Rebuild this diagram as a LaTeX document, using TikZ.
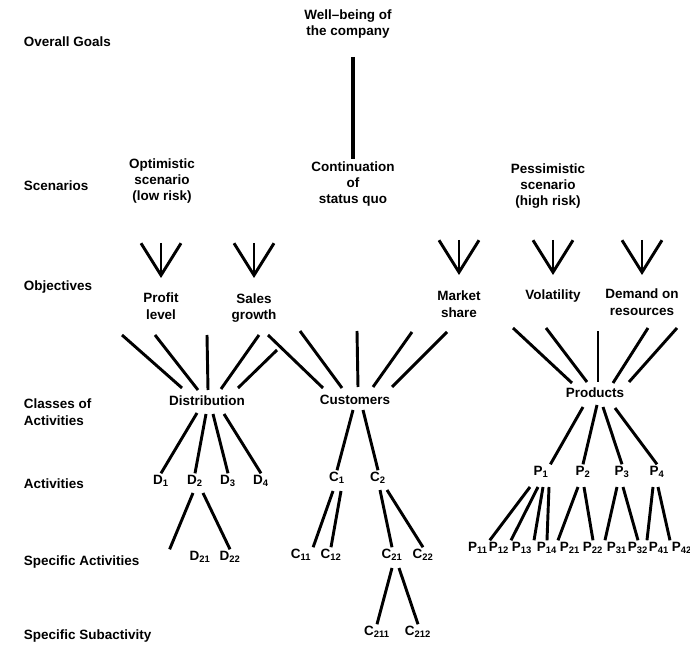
\documentclass[tikz,border=0pt]{standalone}
\usepackage{fontspec}
\setmainfont{Liberation Sans}
\usetikzlibrary{arrows.meta,calc,positioning}
\newcommand{\actSub}[2]{#1\textsubscript{#2}}
\tikzset{
	txt/.style={font=\fontsize{11.5}{14}\selectfont\bfseries,align=center,inner sep=1.5pt},
	rowLbl/.style={txt,anchor=west,align=left},
	link/.style={line width=2.5pt},
	bigArrow/.style={line width=2.5pt,-{Straight Barb[length=9.6mm,width=12mm]}},
}
\begin{document}
\begin{tikzpicture}[x=0.03cm,y=-0.03cm]
	\useasboundingbox (0,0) rectangle (690,651);

	\node (lGoals) at (22,42) [rowLbl] {Overall Goals};
	\node (lScen) at (22,186) [rowLbl] {Scenarios};
	\node (lObj) at (22,287) [rowLbl] {Objectives};
	\node (lClass) at (22,412) [rowLbl] {Classes of\\Activities};
	\node (lAct) at (22,484) [rowLbl] {Activities};
	\node (lSpec) at (22,562) [rowLbl] {Specific Activities};
	\node (lSub) at (22,636) [rowLbl] {Specific Subactivity};

	\node (goal) at (348,24) [txt] {Well--being of\\the company};
	\node (opt) at (162,181) [txt] {Optimistic\\scenario\\(low risk)};
	\node (cont) at (353,184) [txt] {Continuation\\of\\status quo};
	\node (pess) at (548,186) [txt] {Pessimistic\\scenario\\(high risk)};
	\draw[link,line width=3pt,shorten <=14pt] (cont.north |- goal.south) -- (cont.north);

	\node (profit) at (161,306) [txt] {Profit\\level};
	\node (sales) at (254,308) [txt] {Sales\\growth};
	\node (market) at (459,304) [txt] {Market\\share};
	\node (volat) at (553,296) [txt] {Volatility};
	\node (demand) at (642,302) [txt] {Demand on\\resources};
	\draw[bigArrow] (profit.north |- 0,243) -- (profit.north |- 0,278);
	\draw[bigArrow] (sales.north |- 0,243) -- (sales.north |- 0,278);
	\draw[bigArrow] (market.north |- 0,240) -- (market.north |- 0,275);
	\draw[bigArrow] (volat.north |- 0,240) -- (volat.north |- 0,275);
	\draw[bigArrow] (demand.north |- 0,240) -- (demand.north |- 0,275);

	\node (dist) at (207,401) [txt] {Distribution};
	\node (cust) at (355,400) [txt] {Customers};
	\node (prod) at (595,393) [txt] {Products};
	\draw[link] ($(dist)+(-25,-13)$) -- ++(-60,-53);
	\draw[link] ($(dist)+(-9,-11)$) -- ++(-43,-55);
	\draw[link] ($(dist)+(1,-11)$) -- ++(-1,-55);
	\draw[link] ($(dist)+(14,-12)$) -- ++(38,-54);
	\draw[link] ($(dist)+(31,-13)$) -- ++(39,-38);
	\draw[link] ($(cust)+(-32,-12)$) -- ++(-55,-53);
	\draw[link] ($(cust)+(-13,-12)$) -- ++(-42,-57);
	\draw[link] ($(cust)+(3,-13)$) -- ++(-1,-56);
	\draw[link] ($(cust)+(18,-13)$) -- ++(39,-55);
	\draw[link] ($(cust)+(37,-13)$) -- ++(55,-55);
	\draw[link] ($(prod)+(-23,-10)$) -- ++(-59,-55);
	\draw[link] ($(prod)+(-8,-11)$) -- ++(-41,-54);
	\draw[link] ($(prod)+(3,-11)$) -- ++(0,-51);
	\draw[link] ($(prod)+(18,-10)$) -- ++(35,-55);
	\draw[link] ($(prod)+(34,-11)$) -- ++(48,-54);

	\node (d1) at (161,481) [txt] {\actSub{D}{1}};
	\node (d2) at (195,481) [txt] {\actSub{D}{2}};
	\node (d3) at (228,481) [txt] {\actSub{D}{3}};
	\node (d4) at (261,481) [txt] {\actSub{D}{4}};
	\node (c1) at (337,478) [txt] {\actSub{C}{1}};
	\node (c2) at (378,478) [txt] {\actSub{C}{2}};
	\node (p1) at (541,472) [txt] {\actSub{P}{1}};
	\node (p2) at (583,472) [txt] {\actSub{P}{2}};
	\node (p3) at (622,472) [txt] {\actSub{P}{3}};
	\node (p4) at (657,472) [txt] {\actSub{P}{4}};
	\draw[link] ($(dist)+(-10,12)$) -- (d1.north);
	\draw[link] ($(dist)+(-1,13)$) -- (d2.north);
	\draw[link] ($(dist)+(6,13)$) -- (d3.north);
	\draw[link] ($(dist)+(17,13)$) -- (d4.north);
	\draw[link] ($(cust)+(-2,10)$) -- (c1.north);
	\draw[link] ($(cust)+(8,10)$) -- (c2.north);
	\draw[link] ($(prod)+(-12,14)$) -- (p1.north east);
	\draw[link] ($(prod)+(2,12)$) -- (p2.north);
	\draw[link] ($(prod)+(8,14)$) -- (p3.north);
	\draw[link] ($(prod)+(20,15)$) -- (p4.north);

	\node (d21) at (200,557) [txt] {\actSub{D}{21}};
	\node (d22) at (230,557) [txt] {\actSub{D}{22}};
	\node (c11) at (301,555) [txt] {\actSub{C}{11}};
	\node (c12) at (331,555) [txt] {\actSub{C}{12}};
	\node (c21) at (392,555) [txt] {\actSub{C}{21}};
	\node (c22) at (423,555) [txt] {\actSub{C}{22}};
	\draw[link] ($(d2)+(-2,12)$) -- ($(d21.north west)+(-18,0)$);
	\draw[link] ($(d2)+(8,12)$) -- (d22.north);
	\draw[link] ($(c1)+(-4,13)$) -- (c11.north east);
	\draw[link] ($(c1)+(4,13)$) -- (c12.north);
	\draw[link] ($(c2)+(2,12)$) -- (c21.north);
	\draw[link] ($(c2)+(9,12)$) -- (c22.north);

	\node (p11) at (478,548) [txt] {\actSub{P}{11}};
	\node (p12) at (499,548) [txt] {\actSub{P}{12}};
	\node (p13) at (522,548) [txt] {\actSub{P}{13}};
	\node (p14) at (547,548) [txt] {\actSub{P}{14}};
	\node (p21) at (570,548) [txt] {\actSub{P}{21}};
	\node (p22) at (593,548) [txt] {\actSub{P}{22}};
	\node (p31) at (617,548) [txt] {\actSub{P}{31}};
	\node (p32) at (638,548) [txt] {\actSub{P}{32}};
	\node (p41) at (659,548) [txt] {\actSub{P}{41}};
	\node (p42) at (682,548) [txt] {\actSub{P}{42}};
	\draw[link] ($(p1)+(-11,15)$) -- (p11.north east);
	\draw[link] ($(p1)+(-3,15)$) -- (p12.north east);
	\draw[link] ($(p1)+(2,15)$) -- (p13.north east);
	\draw[link] ($(p1)+(8,15)$) -- (p14.north);
	\draw[link] ($(p2)+(-5,15)$) -- (p21.north west);
	\draw[link] ($(p2)+(1,15)$) -- (p22.north);
	\draw[link] ($(p3)+(-5,15)$) -- (p31.north west);
	\draw[link] ($(p3)+(1,15)$) -- (p32.north);
	\draw[link] ($(p4)+(-4,15)$) -- (p41.north west);
	\draw[link] ($(p4)+(1,15)$) -- (p42.north west);

	\node (c211) at (377,632) [txt] {\actSub{C}{211}};
	\node (c212) at (418,632) [txt] {\actSub{C}{212}};
	\draw[link] ($(c21)+(0,13)$) -- (c211.north);
	\draw[link] ($(c21)+(7,13)$) -- (c212.north);
\end{tikzpicture}
\end{document}
